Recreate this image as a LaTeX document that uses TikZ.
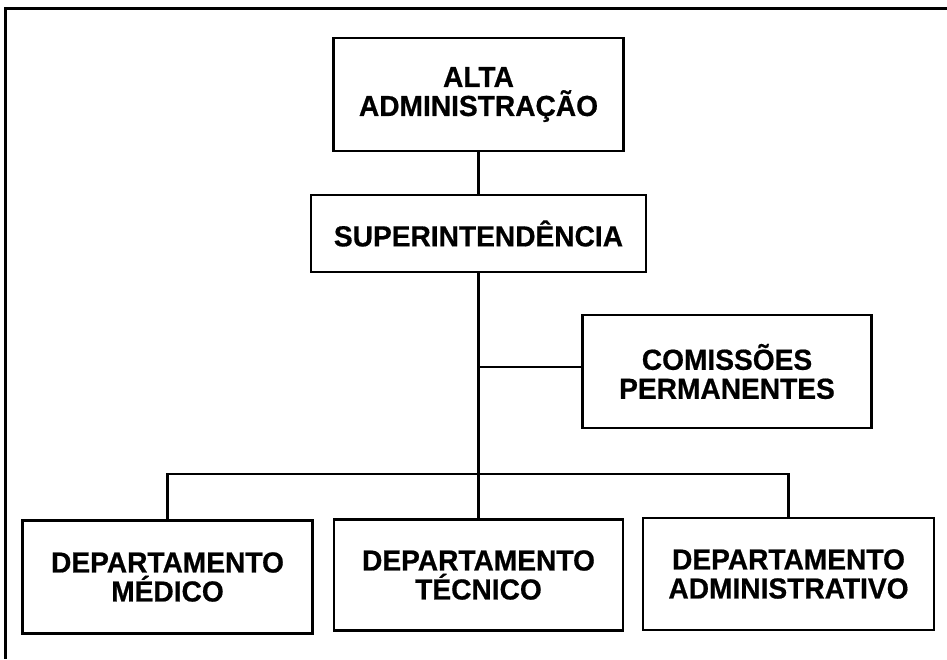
\documentclass[tikz,border=0pt]{standalone}
\usepackage{fontspec}
\setmainfont{Liberation Sans}[FakeStretch=0.97,FakeBold=0.6]
\begin{document}
\begin{tikzpicture}[x=1pt,y=-1pt,
  box/.style={draw=black, line width=2.4pt, fill=white, align=center, inner sep=0pt,
    font=\bfseries\fontsize{29}{29}\selectfont},
  conn/.style={draw=black, line width=2.2pt},
  frame/.style={draw=black, line width=3.2pt}]
\useasboundingbox (0,0) rectangle (947,659);
% scan frame (top and left edges)
\coordinate (fTR) at (947,8.5);
\coordinate (fTL) at (5.5,8.5);
\coordinate (fBL) at (5.5,659);
\draw[frame] (fTR) -- (fTL) -- (fBL);
% nodes
\node[box, minimum width=290pt, minimum height=113pt] (alta) at (478.5,94.5) {ALTA\\ADMINISTRAÇÃO};
\node[box, minimum width=335pt, minimum height=77pt] (sup) at (478.5,233.5) {SUPERINTENDÊNCIA};
\node[box, minimum width=289pt, minimum height=113pt] (com) at (727,371.5) {COMISSÕES\\PERMANENTES};
\node[box, minimum width=290pt, minimum height=113pt] (med) at (167.5,577) {DEPARTAMENTO\\MÉDICO};
\node[box, minimum width=289pt, minimum height=111pt] (tec) at (478.5,575) {DEPARTAMENTO\\TÉCNICO};
\node[box, minimum width=291pt, minimum height=112pt] (adm) at (788.5,574) {DEPARTAMENTO\\ADMINISTRATIVO};
% connectors
\coordinate (bar) at (478.5,474);
\coordinate (br) at (478.5,367);
\draw[conn] (alta.south) -- (sup.north);
\draw[conn] (sup.south) -- (tec.north);
\draw[conn] (br) -- (br -| com.west);
\draw[conn] (med.north) |- (bar) -| (adm.north);
\end{tikzpicture}
\end{document}
